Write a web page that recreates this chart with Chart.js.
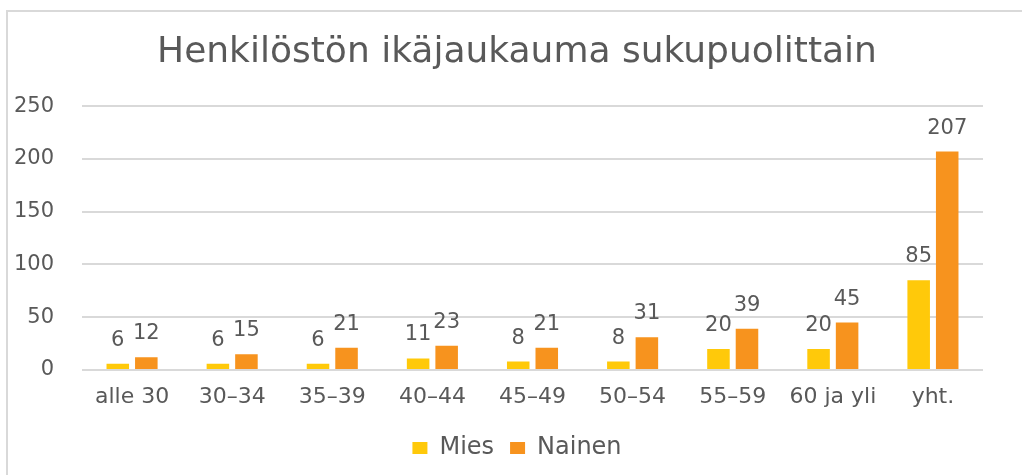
<!DOCTYPE html>
<html lang="fi">
<head>
    <meta charset="UTF-8">
    <title>Henkilöstön ikäjaukauma sukupuolittain</title>
    <script src="https://cdn.jsdelivr.net/npm/chart.js"></script>
    <style>
        html, body {
            margin: 0;
            padding: 0;
            background: #fff;
            overflow: hidden;
        }
        .kehys {
            position: absolute;
            left: 6px;
            top: 10px;
            width: 1014px;
            height: 463px;
            border-left: 2px solid #d9d9d9;
            border-top: 2px solid #d9d9d9;
        }
        canvas {
            display: block;
        }
    </style>
</head>
<body>
    <div class="kehys">
        <canvas id="kaavio" width="1014" height="463"></canvas>
    </div>

    <script>
        // Data luettu kuvasta
        const ikaryhmat = ['alle 30', '30–34', '35–39', '40–44', '45–49', '50–54', '55–59', '60 ja yli', 'yht.'];
        const mies = [6, 6, 6, 11, 8, 8, 20, 20, 85];
        const nainen = [12, 15, 21, 23, 21, 31, 39, 45, 207];

        const harmaa = '#595959';
        const fontti = 'DejaVu Sans';

        // Arvot pylväiden yläpuolelle
        const arvoPlugin = {
            id: 'arvot',
            afterDatasetsDraw(chart) {
                const ctx = chart.ctx;
                ctx.save();
                ctx.font = '21px "' + fontti + '"';
                ctx.fillStyle = harmaa;
                ctx.textAlign = 'center';
                ctx.textBaseline = 'alphabetic';
                chart.data.datasets.forEach((ds, i) => {
                    chart.getDatasetMeta(i).data.forEach((bar, j) => {
                        ctx.fillText(String(ds.data[j]), bar.x, bar.y - 18);
                    });
                });
                ctx.restore();
            }
        };

        new Chart(document.getElementById('kaavio'), {
            type: 'bar',
            data: {
                labels: ikaryhmat,
                datasets: [
                    {
                        label: 'Mies',
                        data: mies,
                        backgroundColor: '#ffc90a'
                    },
                    {
                        label: 'Nainen',
                        data: nainen,
                        backgroundColor: '#f7931e'
                    }
                ]
            },
            options: {
                responsive: false,
                animation: false,
                categoryPercentage: 0.57,
                barPercentage: 0.79,
                layout: {
                    padding: { left: 4, right: 0, top: 0, bottom: 5 }
                },
                plugins: {
                    title: {
                        display: true,
                        text: 'Henkilöstön ikäjaukauma sukupuolittain',
                        color: harmaa,
                        font: { family: fontti, size: 36, weight: 'normal' },
                        padding: { top: 19, bottom: 32 }
                    },
                    legend: {
                        position: 'bottom',
                        labels: {
                            color: harmaa,
                            font: { family: fontti, size: 24 },
                            boxWidth: 15,
                            boxHeight: 12,
                            padding: 16
                        }
                    },
                    tooltip: { enabled: false }
                },
                scales: {
                    x: {
                        grid: { display: false, drawTicks: false },
                        border: { display: false },
                        ticks: {
                            color: harmaa,
                            font: { family: fontti, size: 22 },
                            padding: 14,
                            maxRotation: 0
                        },
                        afterFit(scale) { scale.height = 50; }
                    },
                    y: {
                        min: 0,
                        max: 250,
                        ticks: {
                            stepSize: 50,
                            color: harmaa,
                            font: { family: fontti, size: 21 },
                            padding: 28
                        },
                        grid: { color: '#d9d9d9', lineWidth: 2, drawTicks: false },
                        border: { display: false },
                        afterFit(scale) { scale.width = 70; }
                    },
                    // tyhjä oikea akseli: pitää piirtoalueen oikean reunan paikallaan,
                    // jotta otsikko ja selite keskittyvät koko leveyteen
                    tyhja: {
                        type: 'linear',
                        position: 'right',
                        grid: { display: false, drawTicks: false },
                        border: { display: false },
                        ticks: { display: false },
                        afterFit(scale) { scale.width = 39; }
                    }
                }
            },
            plugins: [arvoPlugin]
        });
    </script>
</body>
</html>
